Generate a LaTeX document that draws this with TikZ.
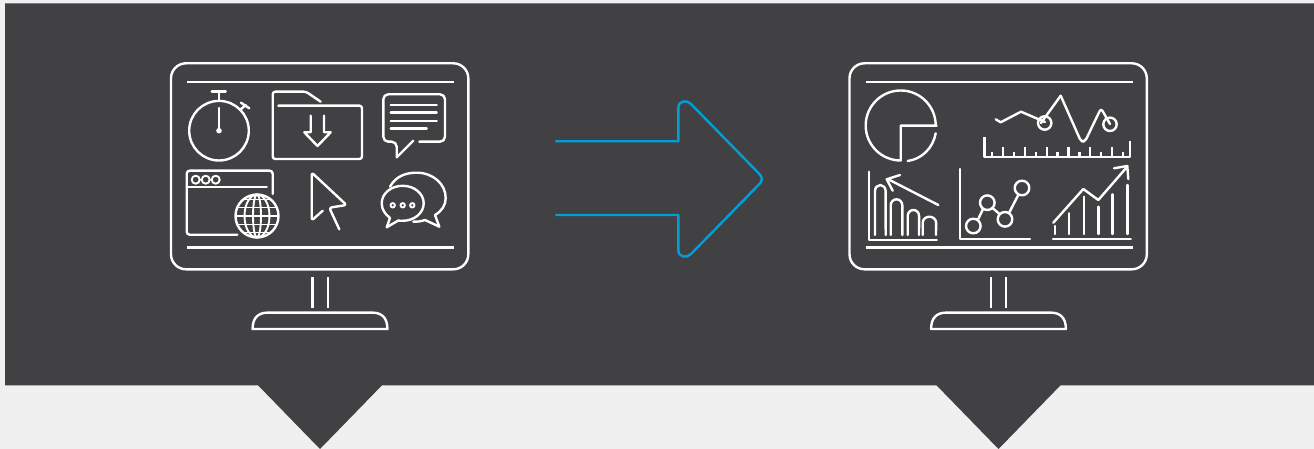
\documentclass[tikz,border=0pt]{standalone}
\definecolor{pagebg}{HTML}{F0F0F0}
\definecolor{panel}{HTML}{414042}
\definecolor{flow}{HTML}{009FDA}
\tikzset{
  icon/.style={draw=white,line width=2.4pt,line cap=round,line join=round},
  thin icon/.style={icon,line width=1.9pt},
  monitorline/.style={icon,line cap=butt},
}
\newcommand{\monitorframe}{%
  \draw[monitorline,rounded corners=15pt] (171,63.3) rectangle (468.3,269.3);
  \draw[monitorline] (187,82) -- (454,82);
  \draw[monitorline] (187,247.3) -- (454,247.3);
  \draw[monitorline] (312.3,277) -- (312.3,307.7);
  \draw[monitorline] (327.7,277) -- (327.7,307.7);
  \draw[monitorline] (252.6,329) .. controls (252.6,318) and (258,312.6) .. (268,312.6) -- (372,312.6) .. controls (382,312.6) and (387.4,318) .. (387.4,329) -- cycle;
}
\begin{document}
\begin{tikzpicture}[x=1pt,y=-1pt]
\useasboundingbox (0,0) rectangle (1314,449);
\fill[pagebg] (0,0) rectangle (1314,449);
\fill[panel] (5,3.5) -- (1314,3.5) -- (1314,385.3) -- (1060.5,385.3) -- (998.5,449) -- (936.5,385.3) -- (382,385.3) -- (320,449) -- (258,385.3) -- (5,385.3) -- cycle;

% flow arrow
\draw[flow,line width=2.4pt,line join=round] (555.3,141.3) -- (678.3,141.3) -- (678.3,108)
  .. controls (678.3,100.5) and (687,99.5) .. (691,104) -- (757.5,172)
  .. controls (763.5,178) and (763.5,180) .. (757.5,186) -- (691,254)
  .. controls (687,258.5) and (678.3,257.5) .. (678.3,250) -- (678.3,215) -- (555.3,215);

% ---------- left monitor ----------
\monitorframe
% stopwatch
\draw[icon] (219,130.7) circle (29.8);
\draw[icon] (211.7,91.7) -- (225.7,91.7) (219,91.7) -- (219,101);
\draw[icon] (219,108) -- (219,130);
\fill[white] (219,130.7) circle (2.8);
\draw[icon] (240,110) -- (245.7,105) (241,102.7) -- (249.3,108.3);
% folder
\draw[icon,rounded corners=2.5pt] (278.3,105.7) -- (362,105.7) -- (362,159) -- (272.7,159) -- (272.7,91.7) -- (306,91.7) [sharp corners] -- (320.7,101.7);
\draw[icon] (310.7,115.7) -- (310.7,132.3) -- (304.3,132.3) -- (317.5,146) -- (330.7,132.3) -- (324,132.3) -- (324,115.7);
% speech bubble
\draw[icon,rounded corners=5pt] (419.3,141.7) -- (445,141.7) -- (445,94.3) -- (383.3,94.3) -- (383.3,141.7) -- (396.7,141.7) [sharp corners] -- (396.7,157.3) -- (413.3,140.7);
\draw[icon] (390.7,105.3) -- (436.7,105.3) (390.7,112.7) -- (436.7,112.7) (390.7,121.3) -- (436.7,121.3) (390.7,128.7) -- (426.7,128.7);
% browser + globe
\draw[icon,rounded corners=3pt] (237.3,234.7) -- (186.7,234.7) -- (186.7,170.7) -- (272.7,170.7) -- (272.7,194);
\draw[icon] (186.7,187.3) -- (266.7,187.3);
\draw[thin icon] (195.7,179.7) circle (4) (205.7,179.7) circle (4) (215.7,179.7) circle (4);
\draw[icon] (257,216) circle (21.5);
\begin{scope}[thin icon]
  \draw (257,216) ellipse (4 and 21.5);
  \draw (257,216) ellipse (12.5 and 21.5);
  \draw (235.5,216) -- (278.5,216);
  \draw (237.5,207.5) -- (276.5,207.5) (237.5,224.5) -- (276.5,224.5);
  \draw (244,199.5) -- (270,199.5) (244,232.5) -- (270,232.5);
\end{scope}
% cursor
\draw[icon,rounded corners=2.5pt] (322.7,210.7) -- (311.7,220.5) -- (311.7,172.5) -- (346.5,205) -- (329.3,207.7) [sharp corners] -- (339.3,229.3);
% chat bubbles
\draw[icon] (390,186.7) .. controls (396,176) and (406,172.7) .. (416.7,172.7) .. controls (433,172.7) and (445.7,184) .. (445.7,198) .. controls (445.7,205) and (442,211) .. (435,215) -- (439.3,226.7) -- (425,220) .. controls (421,221.5) and (417,221.7) .. (413.3,221.7);
\draw[icon] (390,218) .. controls (385,214) and (381.7,209.5) .. (381.7,203.3) .. controls (381.7,193.5) and (391,185.8) .. (402.7,185.8) .. controls (414.3,185.8) and (423.7,193.5) .. (423.7,203.3) .. controls (423.7,213) and (414.3,220.8) .. (402.7,220.8) .. controls (401,220.8) and (399.5,220.8) .. (398.3,220.5) -- (386.7,227.3) -- cycle;
\draw[thin icon] (392.7,205.3) circle (2.2) (402.7,205.3) circle (2.2) (412.3,205.3) circle (2.2);

% ---------- right monitor ----------
\begin{scope}[shift={(678.5,0)}]
\monitorframe
\end{scope}
% pie
\draw[icon] (936.7,125.7) -- (900.7,125.7) -- (900.7,160.5) arc[start angle=90,end angle=360,radius=35] ;
\draw[icon] (935.7,133.3) .. controls (933,148) and (922,159) .. (907.7,161);
% line chart
\draw[icon] (995.7,119.3) -- (1000.7,122.3) -- (1021,111.7) -- (1045,122) ;
\draw[icon] (1041,123) -- (1060.7,95.7) ;
\draw[icon] (1044.7,123) circle (6.7);
\draw[icon,rounded corners=3pt] (1060.7,95.7) -- (1081,141.5) -- (1085,141.5) -- (1101,108.3) -- (1110,124);
\draw[icon] (1110,124.3) circle (6.7);
% ruler
\draw[icon,line cap=butt] (984.3,137.3) -- (984.3,157.3) -- (1130,157.3) -- (1130,140.7);
\draw[icon,line cap=butt] (992.2,157.3) -- (992.2,152) (1003,157.3) -- (1003,147) (1014,157.3) -- (1014,152) (1025,157.3) -- (1025,147) (1036,157.3) -- (1036,152) (1046.7,157.3) -- (1046.7,147) (1057.3,157.3) -- (1057.3,152) (1068.3,157.3) -- (1068.3,147) (1079.3,157.3) -- (1079.3,152) (1090,157.3) -- (1090,147) (1101,157.3) -- (1101,152) (1111.7,157.3) -- (1111.7,147) (1122.7,157.3) -- (1122.7,152);
% descending bars
\draw[icon] (869,171.7) -- (869,240) -- (936.7,240);
\draw[icon] (875,235) -- (875,191) arc[start angle=180,end angle=360,x radius=5.3,y radius=6] -- (885.7,235);
\draw[icon] (890.7,235) -- (890.7,205.3) arc[start angle=180,end angle=360,x radius=5.8,y radius=6] -- (902.3,235);
\draw[icon] (907.7,235) -- (907.7,216) arc[start angle=180,end angle=360,x radius=5.7,y radius=6] -- (919,235);
\draw[icon] (922.7,235) -- (922.7,222.7) arc[start angle=180,end angle=360,x radius=6.7,y radius=6] -- (936,235);
\draw[icon] (938.3,205) -- (888.3,179.3);
\draw[icon] (900,175) -- (886.7,179.3) -- (892.7,190.7);
% scatter
\draw[icon] (960,169) -- (960,239) -- (1030,239);
\draw[icon] (973.3,226) circle (7.3) (987.3,202.7) circle (7.3) (1005,219.3) circle (7.3) (1022,188) circle (7.3);
\draw[icon,line cap=butt] (978,219.5) -- (983,209) (992.5,208) -- (999.5,214) (1009,213) -- (1018.5,194.5);
% rising bars
\draw[icon] (1053,238.7) -- (1130.7,238.7);
\draw[icon] (1055,226) -- (1055,234) (1069,213.3) -- (1069,234) (1083.7,196.7) -- (1083.7,234) (1098.3,206.7) -- (1098.3,234) (1112.3,194.3) -- (1112.3,234) (1127.3,185) -- (1127.3,234);
\draw[icon] (1053.3,222.7) -- (1083.3,189) -- (1098.3,200) -- (1126.7,167.3);
\draw[icon] (1114,168.3) -- (1127.3,166) -- (1128.3,179);
\end{tikzpicture}
\end{document}
